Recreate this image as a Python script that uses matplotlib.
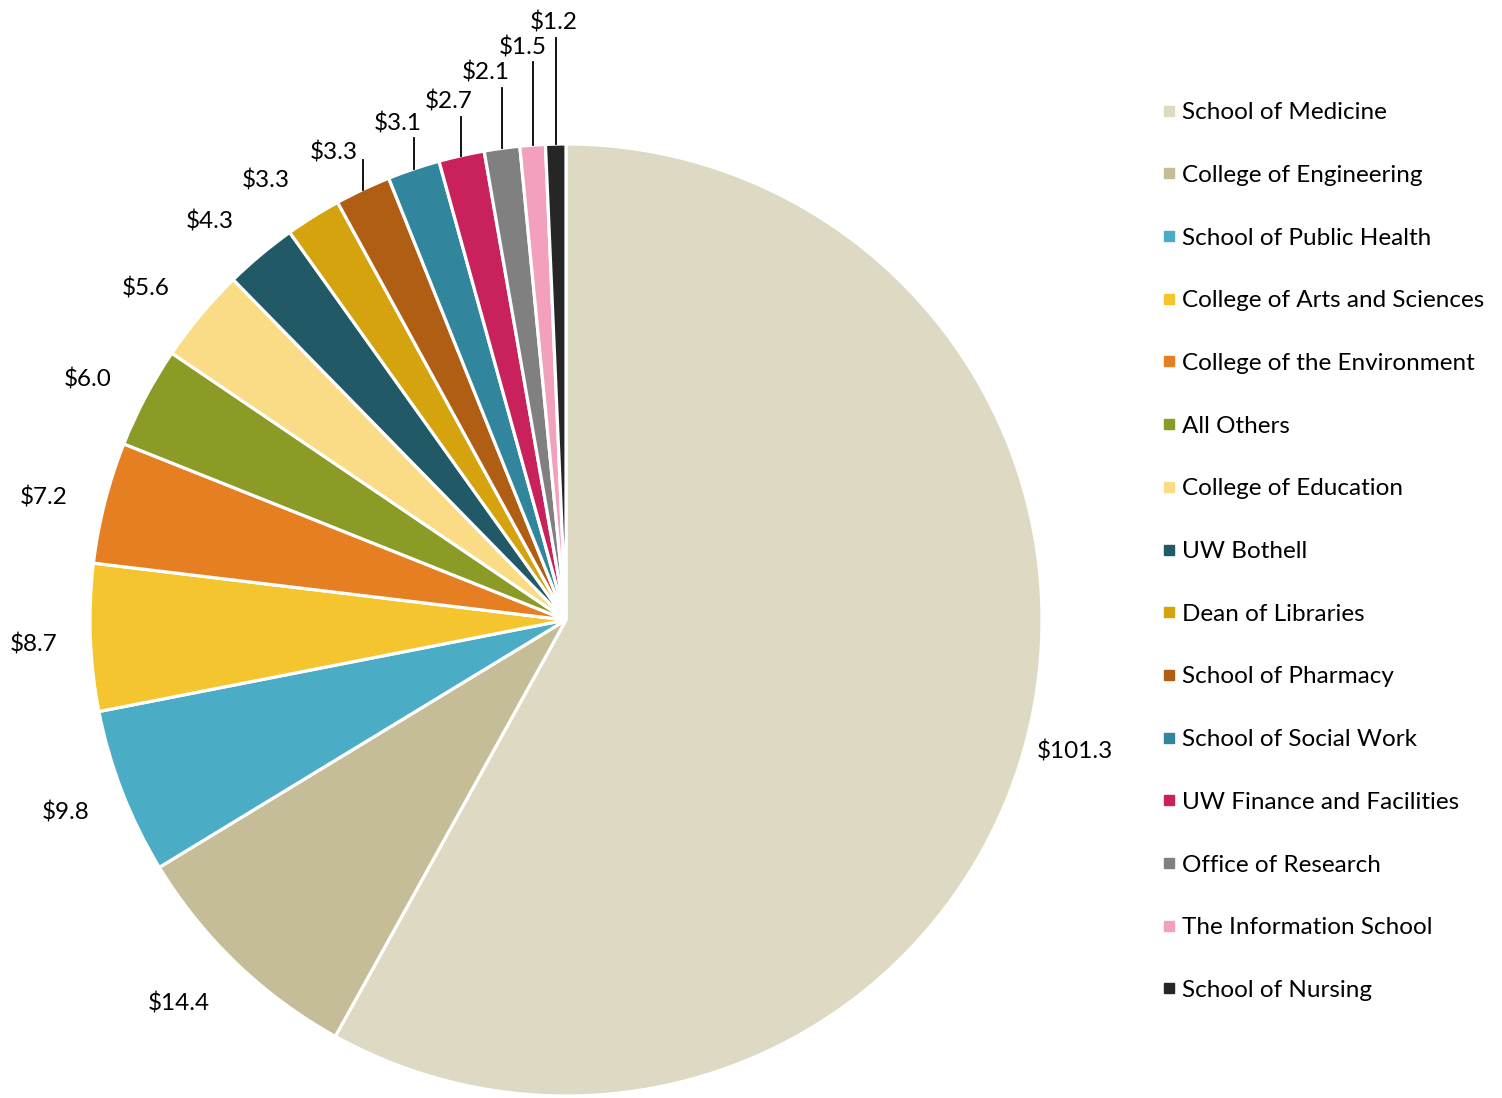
import numpy as np
import matplotlib
matplotlib.use("Agg")
import matplotlib.pyplot as plt
from matplotlib.lines import Line2D

plt.rcParams["font.family"] = ["Lato", "DejaVu Sans"]

units = [
    "School of Medicine", "College of Engineering", "School of Public Health",
    "College of Arts and Sciences", "College of the Environment", "All Others",
    "College of Education", "UW Bothell", "Dean of Libraries",
    "School of Pharmacy", "School of Social Work", "UW Finance and Facilities",
    "Office of Research", "The Information School", "School of Nursing",
]
amounts = [101.3, 14.4, 9.8, 8.7, 7.2, 6.0, 5.6, 4.3, 3.3, 3.3, 3.1, 2.7, 2.1, 1.5, 1.2]
colors = [
    "#DDD9C3", "#C4BD97", "#4BACC6", "#F4C52F", "#E67E22", "#8B9B26",
    "#F9DC85", "#215967", "#D4A30E", "#B05E14", "#31859C", "#C9215B",
    "#808080", "#F2A0BD", "#262626",
]

# outside-end labels: distance from centre (pie radii) and angle nudge (deg)
label_r = [1.104, 1.145, 1.127, 1.120, 1.127, 1.124, 1.124, 1.124, 1.118]
label_nudge = [0.0, -1.4, -0.2, 0.5, 1.1, 1.2, 1.6, 1.9, 2.3]

# labels of the thin slices sit above the pie with a vertical leader line
leader_from = 9
leader_top = [0.966, 1.013, 1.057, 1.118, 1.172, 1.223]
leader_text_y = [0.983, 1.044, 1.090, 1.151, 1.202, 1.256]
leader_dx = [-0.061, -0.034, -0.026, -0.035, -0.020, -0.004]

fig = plt.figure(figsize=(15.02, 10.98), dpi=100)
ax = fig.add_axes([90 / 1502, 2 / 1098, 952 / 1502, 952 / 1098])

wedges, _ = ax.pie(
    amounts, colors=colors, startangle=90, counterclock=False, radius=1.0,
    wedgeprops=dict(edgecolor="white", linewidth=2.3),
)
ax.set_xlim(-1, 1)
ax.set_ylim(-1, 1)
ax.set_aspect("auto")
ax.axis("off")

fs = 17.5
for i, (w, v) in enumerate(zip(wedges, amounts)):
    mid = (w.theta1 + w.theta2) / 2
    label = f"${v:.1f}"
    if i < leader_from:
        a = np.deg2rad(mid + label_nudge[i])
        r = label_r[i]
        ax.text(r * np.cos(a), r * np.sin(a), label, ha="center", va="center",
                fontsize=fs, clip_on=False)
    else:
        k = i - leader_from
        a = np.deg2rad(mid)
        x0, y0 = np.cos(a), np.sin(a)
        ax.plot([x0, x0], [y0, leader_top[k]], color="black", lw=1.3, clip_on=False)
        ax.text(x0 + leader_dx[k], leader_text_y[k], label, ha="center", va="center",
                fontsize=fs, clip_on=False)

handles = [Line2D([], [], marker="s", linestyle="none", markersize=7,
                  markerfacecolor=c, markeredgecolor=c) for c in colors]
fig.legend(handles, units, loc="upper left", bbox_to_anchor=(1150 / 1502, 1 - 90 / 1098),
           frameon=False, fontsize=fs, handlelength=0.6, handletextpad=0.2,
           labelspacing=1.715, borderpad=0)

fig.savefig("out.png", dpi=100)
